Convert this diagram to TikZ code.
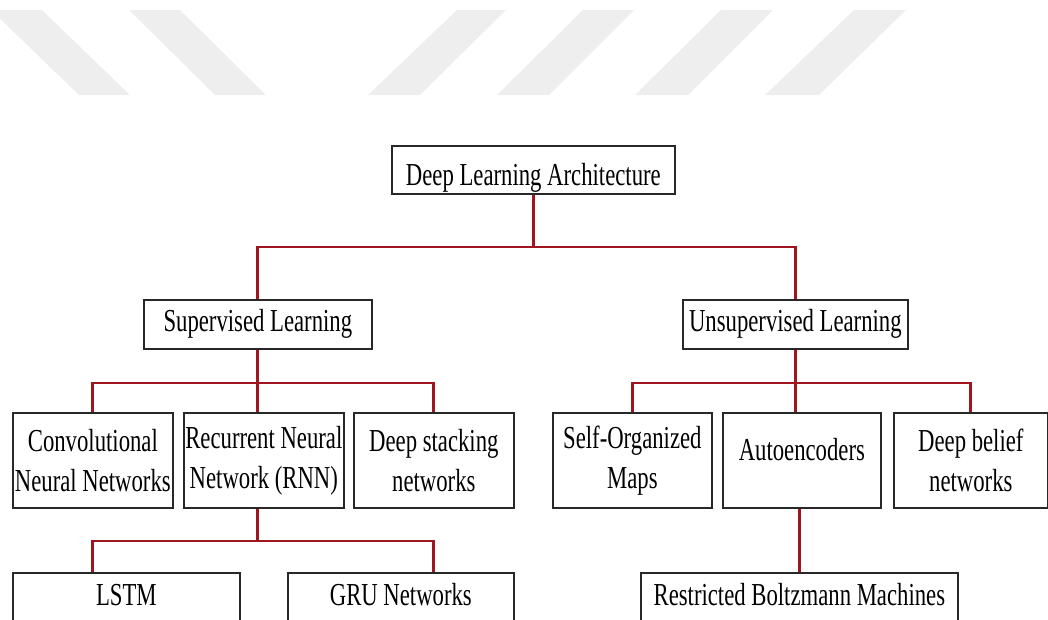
\documentclass[tikz,border=0pt]{standalone}
\usepackage{fontspec}
\newfontfamily\cond[FakeStretch=0.71]{Liberation Serif}
\definecolor{linkred}{RGB}{160,22,30}
\definecolor{boxline}{RGB}{40,40,40}
\definecolor{stripe}{RGB}{238,238,238}
\tikzset{
  box/.style={draw=boxline, line width=1.7pt, fill=white, inner sep=0pt,
              align=center, anchor=north west,
              font=\cond\fontsize{32}{40}\selectfont},
  link/.style={draw=linkred, line width=2.9pt},
}
\begin{document}
\begin{tikzpicture}[x=1pt, y=-1pt]
\useasboundingbox (0,0) rectangle (1048,619);
\clip (0,0) rectangle (1048,619);

% light stripes along the top edge
\fill[stripe] (-9,10) -- (42,10) -- (130,95) -- (79,95) -- cycle;
\fill[stripe] (129,10) -- (180,10) -- (266,95) -- (215,95) -- cycle;
\fill[stripe] (457,10) -- (506,10) -- (420,95) -- (368,95) -- cycle;
\fill[stripe] (583,10) -- (634,10) -- (549,95) -- (497,95) -- cycle;
\fill[stripe] (721,10) -- (773,10) -- (688,95) -- (635,95) -- cycle;
\fill[stripe] (854,10) -- (906,10) -- (819,95) -- (765,95) -- cycle;

% junction levels of the buses
\coordinate (b1) at (0,247);
\coordinate (b2) at (0,383);
\coordinate (b3) at (0,541);

% boxes
\path (391,145) node[box, minimum width=283pt, text height=40pt, text depth=8pt] (root) {Deep Learning Architecture};
\path (143,299) node[box, minimum width=228pt, text height=32pt, text depth=17pt] (sup) {Supervised Learning};
\path (682,299) node[box, minimum width=225pt, text height=32pt, text depth=17pt] (uns) {Unsupervised Learning};

\path (12,412)  node[box, minimum width=160pt, minimum height=95pt] (cnn) {Convolutional\\Neural Networks};
\path (183,412) node[box, minimum width=160pt, minimum height=95pt] (rnn) {Recurrent Neural\\Network (RNN)};
\path (353,412) node[box, minimum width=160pt, minimum height=95pt] (dsn) {Deep stacking\\networks};
\path (552,412) node[box, minimum width=159pt, minimum height=95pt] (som) {Self-Organized\\Maps};
\path (722,412) node[box, minimum width=158pt, text height=48pt, text depth=47pt] (ae) {Autoencoders};
\path (893,412) node[box, minimum width=154pt, minimum height=95pt] (dbn) {Deep belief\\networks};

\path (12,572)  node[box, minimum width=227pt, text height=33pt, text depth=35pt] (lstm) {LSTM};
\path (287,572) node[box, minimum width=226pt, text height=33pt, text depth=35pt] (gru) {GRU Networks};
\path (640,572) node[box, minimum width=317pt, text height=33pt, text depth=35pt] (rbm) {Restricted Boltzmann Machines};

% top level
\draw[link] (root.south) -- (root.south |- b1);
\draw[link] (sup.north) -- (sup.north |- b1) -- (uns.north |- b1) -- (uns.north);

% supervised branch
\draw[link] (sup.south) -- (sup.south |- rnn.north);
\draw[link] (cnn.north) -- (cnn.north |- b2) -- (dsn.north |- b2) -- (dsn.north);

% unsupervised branch
\draw[link] (uns.south) -- (uns.south |- ae.north);
\draw[link] (som.north) -- (som.north |- b2) -- (dbn.north |- b2) -- (dbn.north);

% recurrent networks
\draw[link] (sup.south |- rnn.south) -- (sup.south |- b3);
\draw[link] (cnn.north |- lstm.north) -- (cnn.north |- b3) -- (dsn.north |- b3) -- (dsn.north |- gru.north);

% autoencoders
\draw[link] (rbm.north |- ae.south) -- (rbm.north);
\end{tikzpicture}
\end{document}
